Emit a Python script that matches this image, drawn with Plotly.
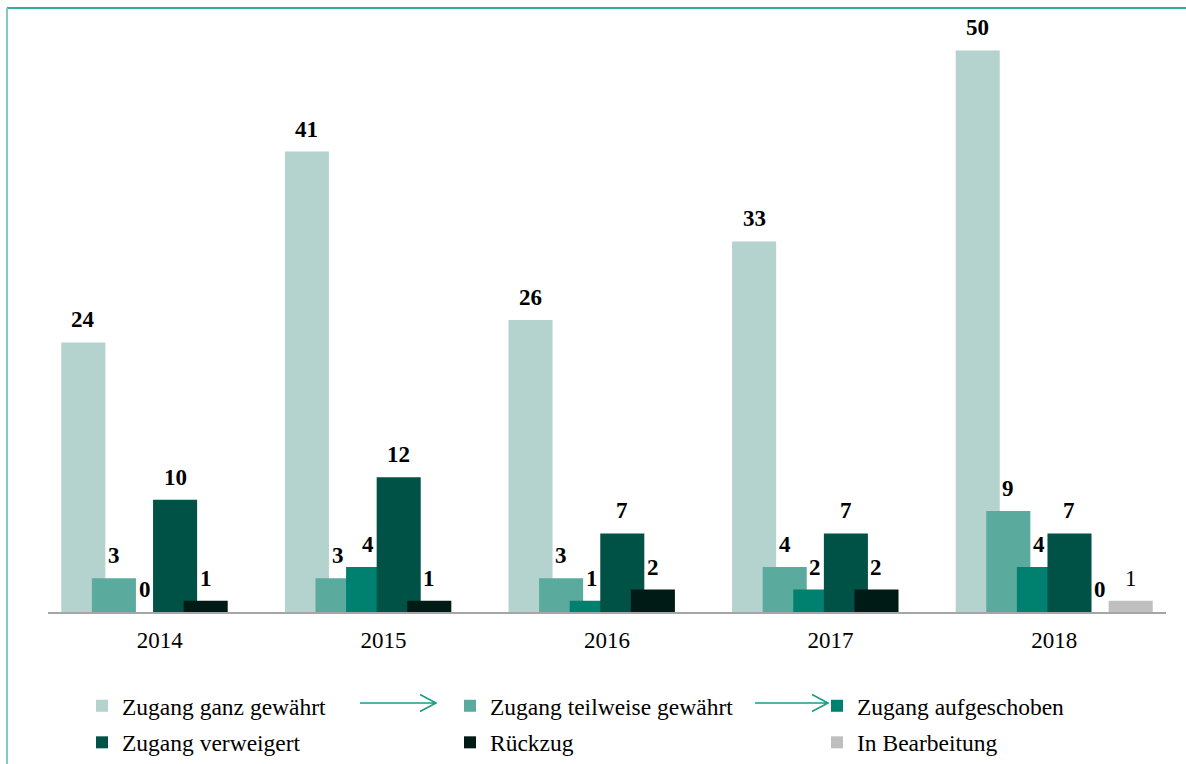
import plotly.graph_objects as go

years = ["2014", "2015", "2016", "2017", "2018"]
series_names = [
    "Zugang ganz gewährt",
    "Zugang teilweise gewährt",
    "Zugang aufgeschoben",
    "Zugang verweigert",
    "Rückzug",
    "In Bearbeitung",
]
ganz = [24, 41, 26, 33, 50]
teilweise = [3, 3, 3, 4, 9]
aufgeschoben = [0, 4, 1, 2, 4]
verweigert = [10, 12, 7, 7, 7]
rueckzug = [1, 1, 2, 2, 0]
bearbeitung = [None, None, None, None, 1]

series_values = [ganz, teilweise, aufgeschoben, verweigert, rueckzug, bearbeitung]
colors = ["#b4d2ce", "#5aab9e", "#00806e", "#005246", "#001a16", "#bfbfbf"]
label_bold = [True, True, True, True, True, False]
legend_column = ["legend", "legend2", "legend3", "legend", "legend2", "legend3"]

FONT = "Times New Roman, Liberation Serif, serif"
W, H = 1186, 764
ML, MR, MT, MB = 48, 20, 28, 152
PW, PH = W - ML - MR, H - MT - MB

bar_w = 0.197
step = 0.1368

fig = go.Figure()
annotations = []
for i, (name, vals, col) in enumerate(zip(series_names, series_values, colors)):
    off = (i - 2.5) * step
    xs = [k + off for k in range(len(years))]
    fig.add_trace(go.Bar(
        x=xs, y=vals, name=name, width=bar_w,
        marker=dict(color=col, line=dict(width=0)),
        hoverinfo="skip", legend=legend_column[i], legendgroup=name,
    ))
    for x, v in zip(xs, vals):
        if v is None:
            continue
        txt = f"<b>{v}</b>" if label_bold[i] else str(v)
        annotations.append(dict(
            x=x, y=v, xref="x", yref="y", text=txt, showarrow=False,
            yanchor="bottom", xanchor="center", yshift=8,
            font=dict(family=FONT, size=23, color="#000000"),
        ))


def px2paper(px, py):
    return (px - ML) / PW, (H - MB - py) / PH


def arrow_path(x0, x1, y):
    a = px2paper(x0, y)
    b = px2paper(x1, y)
    h1 = px2paper(x1 - 16, y - 8.5)
    h2 = px2paper(x1 - 16, y + 8.5)
    return (f"M{a[0]},{a[1]} L{b[0]},{b[1]} "
            f"M{h1[0]},{h1[1]} L{b[0]},{b[1]} L{h2[0]},{h2[1]}")


shapes = []
for x0, x1 in [(360, 436), (755, 828)]:
    shapes.append(dict(type="path", xref="paper", yref="paper",
                       path=arrow_path(x0, x1, 703),
                       line=dict(color="#1a9c86", width=1.6)))

# frame lines
tl = px2paper(7, 8)
tr = px2paper(1186, 8)
bl = px2paper(7, 764)
shapes.append(dict(type="line", xref="paper", yref="paper",
                   x0=tl[0], y0=tl[1], x1=tr[0], y1=tr[1],
                   line=dict(color="#34ad9f", width=2)))
shapes.append(dict(type="line", xref="paper", yref="paper",
                   x0=bl[0], y0=bl[1], x1=tl[0], y1=tl[1],
                   line=dict(color="#80cbc4", width=2)))


def legend_at(px_x, px_y):
    lx, ly = px2paper(px_x, px_y)
    return dict(
        orientation="v", x=lx, y=ly, xanchor="left", yanchor="top",
        xref="paper", yref="paper",
        font=dict(family=FONT, size=23.5, color="#000000"),
        bgcolor="rgba(0,0,0,0)", traceorder="grouped", tracegroupgap=3,
    )


fig.update_layout(
    width=W, height=H,
    margin=dict(l=ML, r=MR, t=MT, b=MB, autoexpand=False),
    barmode="overlay",
    plot_bgcolor="white", paper_bgcolor="white",
    font=dict(family=FONT, size=23, color="#000000"),
    xaxis=dict(
        range=[-0.5, 4.5], tickvals=list(range(len(years))), ticktext=years,
        showgrid=False, zeroline=False, showline=True,
        linecolor="#a6a6a6", linewidth=2, ticks="",
        ticklabelstandoff=6,
        tickfont=dict(family=FONT, size=23, color="#000000"),
        fixedrange=True,
    ),
    yaxis=dict(range=[0, 52], visible=False, showgrid=False, zeroline=False,
               fixedrange=True),
    legend=legend_at(82, 684),
    legend2=legend_at(450, 684),
    legend3=legend_at(817, 684),
    annotations=annotations,
    shapes=shapes,
    showlegend=True,
)

fig.write_html(
    "out.html",
    config={"displayModeBar": False},
    post_script="document.body.style.margin='0px';document.body.style.overflow='hidden';",
)
